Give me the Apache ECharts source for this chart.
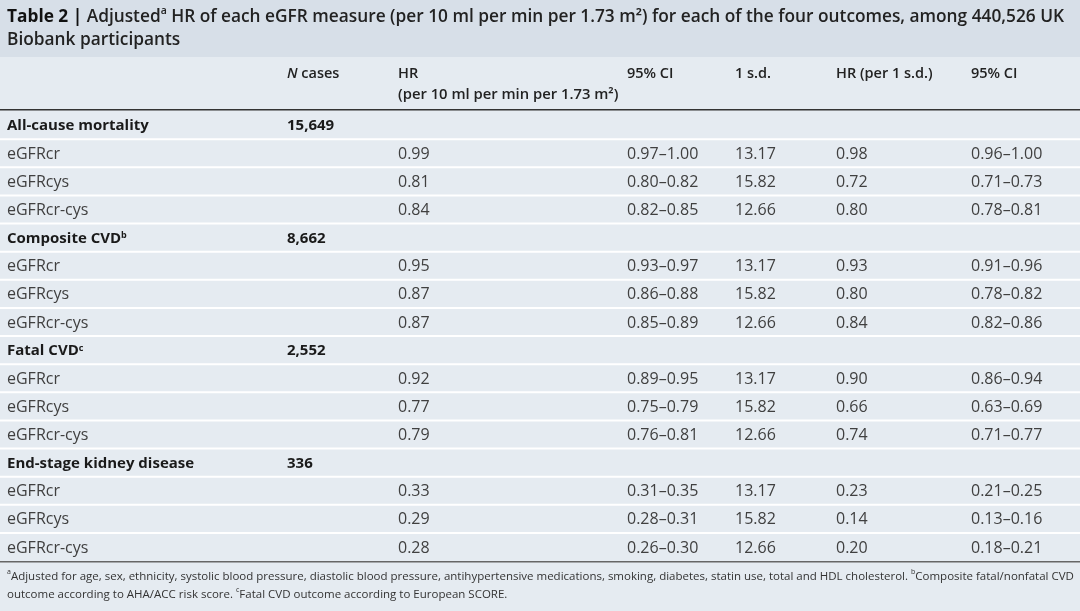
<!DOCTYPE html>
<html><head><meta charset="utf-8">
<script src="https://cdn.jsdelivr.net/npm/echarts@6/dist/echarts.min.js"></script>
<style>html,body{margin:0;padding:0;background:#e5ebf1}#c{width:1080px;height:611px}</style>
</head><body><div id="c"></div>
<script>
// ---- data ----
const outcomes = ['All-cause mortality', 'Composite CVD', 'Fatal CVD', 'End-stage kidney disease'];
const outcomeSup = ['', 'b', 'c', ''];
const nCases = ['15,649', '8,662', '2,552', '336'];
const measures = ['eGFRcr', 'eGFRcys', 'eGFRcr-cys'];
const sdValues = ['13.17', '15.82', '12.66'];
const hr = [[0.99, 0.81, 0.84], [0.95, 0.87, 0.87], [0.92, 0.77, 0.79], [0.33, 0.29, 0.28]];
const ci = [['0.97–1.00', '0.80–0.82', '0.82–0.85'], ['0.93–0.97', '0.86–0.88', '0.85–0.89'], ['0.89–0.95', '0.75–0.79', '0.76–0.81'], ['0.31–0.35', '0.28–0.31', '0.26–0.30']];
const hrSd = [[0.98, 0.72, 0.80], [0.93, 0.80, 0.84], [0.90, 0.66, 0.74], [0.23, 0.14, 0.20]];
const ciSd = [['0.96–1.00', '0.71–0.73', '0.78–0.81'], ['0.91–0.96', '0.78–0.82', '0.82–0.86'], ['0.86–0.94', '0.63–0.69', '0.71–0.77'], ['0.21–0.25', '0.13–0.16', '0.18–0.21']];
const headers = ['', '{i|N} cases', 'HR', '95% CI', '1 s.d.', 'HR (per 1 s.d.)', '95% CI'];
const headerSub = '(per 10 ml per min per 1.73 m²)';
const titleText = '{b|Table 2 |} Adjusted{sup|a} HR of each eGFR measure (per 10 ml per min per 1.73 m²) for each of the four outcomes, among 440,526 UK\nBiobank participants';
const footText = '{sup|a}Adjusted for age, sex, ethnicity, systolic blood pressure, diastolic blood pressure, antihypertensive medications, smoking, diabetes, statin use, total and HDL cholesterol. {sup|b}Composite fatal/nonfatal CVD\noutcome according to AHA/ACC risk score. {sup|c}Fatal CVD outcome according to European SCORE.';

// ---- layout ----
const FONT = '"Open Sans", "Noto Sans", sans-serif';
const BODY = '#e5ebf1', BAND = '#d7dfe8';
const COLX = [7, 287, 398, 627, 735, 836, 971];
const TABLE_TOP = 111, TABLE_BOTTOM = 561;

const rows = [];
outcomes.forEach((o, g) => {
  rows.push({ group: true, cells: [o + (outcomeSup[g] ? '{sup|' + outcomeSup[g] + '}' : ''), nCases[g], '', '', '', '', ''] });
  measures.forEach((m, k) => {
    rows.push({ group: false, cells: [m, '', hr[g][k].toFixed(2), ci[g][k], sdValues[k], hrSd[g][k].toFixed(2), ciSd[g][k]] });
  });
});

const chart = echarts.init(document.getElementById('c'));
const supStyle = { fontSize: 9, verticalAlign: 'top', lineHeight: 14, fontFamily: FONT };

chart.setOption({
  backgroundColor: BODY,
  animation: false,
  grid: { left: 0, right: 0, top: TABLE_TOP, bottom: 611 - TABLE_BOTTOM },
  xAxis: { type: 'value', min: 0, max: 1080, show: false },
  yAxis: { type: 'category', inverse: true, data: rows.map((r, i) => i), show: false },
  graphic: [
    { type: 'rect', shape: { x: 0, y: 0, width: 1080, height: 57 }, style: { fill: BAND } },
    { type: 'text', x: 7, y: 6, style: { text: titleText, fontFamily: FONT, fontSize: 17.3, fontWeight: 600, fill: '#222', lineHeight: 23,
        rich: { b: { fontWeight: 'bold', fontSize: 17.3, fontFamily: FONT, fill: '#111', lineHeight: 23 }, sup: { fontSize: 10.5, fontFamily: FONT, fontWeight: 600, verticalAlign: 'top', lineHeight: 17, fill: '#222' } } } },
    ...headers.map((h, j) => h ? { type: 'text', x: COLX[j], y: 74, style: { text: h, fontFamily: FONT, fontSize: 14.5, fontWeight: 600, fill: '#222', verticalAlign: 'middle',
        rich: { i: { fontStyle: 'italic', fontWeight: 600, fontSize: 14.5, fontFamily: FONT, fill: '#222' } } } } : null).filter(Boolean),
    { type: 'text', x: COLX[2], y: 95, style: { text: headerSub, fontFamily: FONT, fontSize: 14.8, fontWeight: 600, fill: '#222', verticalAlign: 'middle' } },
    { type: 'rect', shape: { x: 0, y: 109, width: 1080, height: 1.5 }, style: { fill: '#333' } },
    { type: 'rect', shape: { x: 0, y: TABLE_BOTTOM, width: 1080, height: 1.5 }, style: { fill: '#666' } },
    { type: 'text', x: 7, y: 568, style: { text: footText, fontFamily: FONT, fontSize: 11.5, fill: '#333', lineHeight: 18,
        rich: { sup: { fontSize: 7, fontFamily: FONT, verticalAlign: 'top', lineHeight: 13, fill: '#333' } } } }
  ],
  series: [{
    type: 'custom',
    coordinateSystem: 'cartesian2d',
    encode: { x: 0, y: 1 },
    data: rows.map((r, i) => [0, i]),
    renderItem(params, api) {
      const r = api.value(1);
      const c = api.coord([0, r]);
      const h = api.size([0, 1])[1];
      const row = rows[r];
      const top = c[1] - h / 2;
      const children = [{ type: 'rect', shape: { x: 0, y: top, width: 1080, height: h }, style: { fill: BODY } }];
      if (r > 0) children.push({ type: 'rect', shape: { x: 0, y: top - 1, width: 1080, height: 2 }, style: { fill: '#ffffff' } });
      row.cells.forEach((t, j) => {
        if (!t) return;
        children.push({ type: 'text', x: api.coord([COLX[j], r])[0], y: c[1] + 1, style: {
          text: t, fontFamily: FONT, fontSize: row.group ? 15 : 16, fontWeight: row.group ? 'bold' : 'normal',
          fill: row.group ? '#1a1a1a' : '#404040', verticalAlign: 'middle',
          rich: { sup: Object.assign({}, supStyle, { fill: '#1a1a1a', fontWeight: 'bold' }) } } });
      });
      return { type: 'group', children };
    }
  }]
});
</script>
</body></html>
